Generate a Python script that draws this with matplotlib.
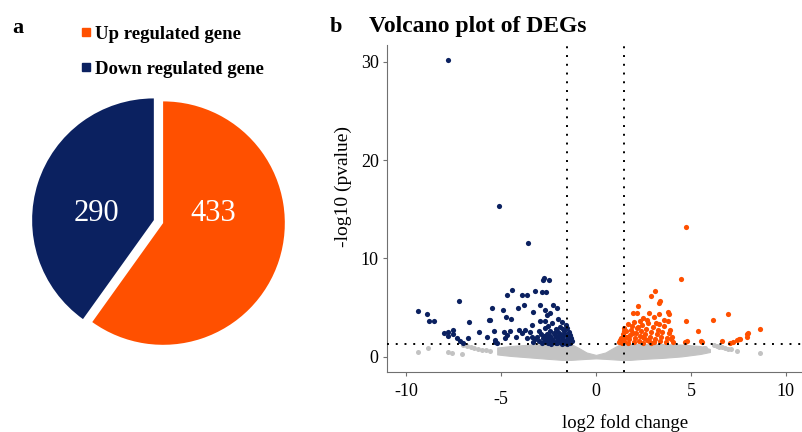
import numpy as np
import matplotlib
matplotlib.use("Agg")
import matplotlib.pyplot as plt
import matplotlib.transforms as mtrans
from matplotlib.lines import Line2D

plt.rcParams['font.family'] = ['Liberation Serif', 'DejaVu Serif']

# ---- data ----
pie_labels = ["Up regulated gene", "Down regulated gene"]
pie_counts = [433, 290]
col_up = "#FF5000"
col_down = "#0B2160"
col_grey = "#C3C3C3"

# non significant genes: envelope of the dense grey band
band_x = [-5.2, -4.5, -3.5, -2.5, -1.8, -1.3, -0.9, -0.5, 0.0, 0.5, 0.9, 1.3, 1.8, 2.5, 3.5, 4.5, 5.5, 6.0]
band_lo = [0.25, 0.1, -0.05, -0.2, -0.3, -0.3, -0.25, -0.2, -0.15, -0.2, -0.25, -0.3, -0.3, -0.2, -0.1, 0.05, 0.3, 0.5]
band_hi = [0.95, 1.1, 1.25, 1.3, 1.3, 1.3, 0.9, 0.45, 0.2, 0.45, 0.9, 1.3, 1.3, 1.3, 1.3, 1.25, 1.1, 0.8]

grey_x = [-9.35, -8.86, -7.77, -7.6, -7.07, -7.0, -6.8, -6.6, -6.4, -6.2, -6.0, -5.8, -5.6,
          5.68, 5.74, 6.2, 6.35, 6.5, 6.65, 6.8, 6.95, 7.1, 7.44, 8.63]
grey_y = [0.54, 0.88, 0.54, 0.37, 0.3, 1.2, 1.1, 1.0, 0.95, 0.85, 0.75, 0.65, 0.55,
          0.88, 0.9, 1.2, 1.1, 1.05, 0.98, 0.92, 0.85, 0.8, 0.64, 0.44]

down_x = [-7.77, -5.09, -3.56, -2.74, -2.77, -2.46, -4.4, -4.7, -3.88, -3.65, -3.21, -2.86, -2.63,
          -5.46, -4.91, -4.09, -3.79, -3.3, -2.95, -2.67, -2.42, -2.28, -2.03, -4.75, -4.49, -5.56,
          -3.39, -2.95, -2.68, -2.6, -5.37, -5.75, -5.32, -4.84, -4.53, -4.79, -4.7, -4.21, -4.04,
          -3.91, -3.74, -3.47, -3.39, -3.65, -9.35, -8.9, -8.79, -8.51, -7.23, -6.67, -7.98, -7.81,
          -7.54, -7.77, -7.51, -7.33, -7.16, -6.98, -6.72, -6.14, -5.61, -5.32, -5.23,
          -2.0, -1.8, -2.3, -1.6, -2.5, -1.9, -2.1, -1.5, -2.7, -3.0, -2.4, -1.7, -2.2, -1.4,
          -2.9, -2.6, -1.9, -1.6, -2.4, -2.1, -1.8, -1.45, -3.1, -2.8, -2.6, -2.3, -2.0, -1.7,
          -1.4, -3.0, -2.7, -2.45, -2.2, -1.95, -1.6, -1.35, -2.85, -3.3, -2.55, -2.1, -1.8,
          -1.5, -2.35, -1.25, -1.3, -2.75, -3.2, -1.55, -2.0, -1.75,
          -1.65, -1.85, -2.05, -2.25, -1.45, -1.35, -1.95, -2.15, -2.5, -1.7]
down_y = [30.2, 15.36, 11.56, 8.0, 7.83, 7.83, 6.8, 6.24, 6.24, 6.24, 6.65, 6.57, 6.57,
          4.95, 4.78, 4.95, 5.29, 4.61, 5.29, 4.78, 4.51, 5.29, 4.95, 4.03, 3.82, 3.76,
          3.26, 3.6, 3.6, 4.27, 2.68, 2.07, 1.73, 2.58, 2.68, 1.9, 2.24, 2.07, 2.75,
          2.4, 2.75, 2.58, 2.07, 1.9, 4.68, 4.34, 3.6, 3.6, 5.63, 3.5, 2.47, 2.58,
          2.75, 2.14, 2.3, 1.96, 1.63, 1.46, 1.96, 2.58, 3.76, 1.56, 1.39,
          3.8, 3.5, 3.4, 3.2, 3.1, 3.0, 2.8, 2.9, 2.9, 2.6, 2.6, 2.6, 2.4, 2.5,
          2.3, 2.3, 2.3, 2.2, 2.1, 2.0, 2.0, 2.0, 2.0, 1.9, 1.85, 1.8, 1.75, 1.75,
          1.7, 1.6, 1.6, 1.55, 1.55, 1.5, 1.5, 1.45, 1.45, 1.5, 1.4, 1.38, 1.35,
          1.35, 1.35, 1.6, 1.9, 2.15, 1.8, 1.75, 2.5, 2.8,
          1.4, 1.6, 1.45, 1.65, 1.85, 2.2, 2.15, 2.25, 1.95, 2.35]

up_x = [4.72, 4.46, 3.11, 2.89, 3.37, 3.33, 2.23, 1.93, 2.14, 2.81, 3.05, 3.3, 3.77, 3.86,
        2.49, 2.67, 2.32, 3.58, 3.8, 4.75, 5.35, 3.89, 3.98, 4.07, 4.68, 4.8, 5.53, 6.14,
        6.96, 6.61, 7.23, 7.4, 7.54, 7.93, 8.02, 7.96, 8.63, 7.58, 7.05, 5.56,
        1.2, 1.3, 1.4, 1.35, 1.5, 1.55, 1.6, 1.5, 1.7, 1.75, 1.8, 1.85, 1.9, 1.7, 2.0, 2.05,
        2.1, 2.15, 2.0, 2.25, 2.3, 2.35, 2.4, 2.5, 2.55, 2.6, 2.65, 2.75, 2.8, 2.85, 2.9,
        3.0, 3.05, 3.1, 3.2, 3.25, 3.35, 3.45, 3.5, 3.6, 3.7, 3.75, 3.85, 1.25, 1.45, 1.95,
        2.2, 2.45, 2.7, 3.3, 1.65, 2.9, 3.15, 3.95]
up_y = [13.15, 7.9, 6.68, 6.17, 5.63, 5.45, 5.22, 4.51, 4.51, 4.51, 4.1, 4.34, 4.61, 4.37,
        4.0, 3.76, 3.6, 3.76, 3.66, 3.62, 2.64, 2.75, 2.07, 1.56, 1.56, 1.63, 1.63, 3.76,
        4.34, 1.63, 1.56, 1.73, 1.8, 2.07, 2.47, 2.3, 2.85, 1.8, 1.46, 1.56,
        1.5, 1.9, 2.3, 1.4, 1.6, 2.0, 2.6, 2.9, 1.45, 1.8, 2.2, 2.7, 3.1, 3.3, 1.5, 1.9,
        2.4, 2.9, 3.5, 1.6, 2.1, 2.6, 3.2, 1.45, 1.9, 2.3, 2.8, 3.4, 1.6, 2.0, 2.5,
        3.0, 1.5, 1.85, 2.3, 2.7, 1.6, 2.0, 2.5, 3.1, 1.5, 1.9, 2.4, 1.7, 2.65, 2.45,
        3.0, 2.0, 1.75, 3.3, 2.05, 1.4, 3.4, 1.8]

xticks = [-10, -5, 0, 5, 10]
yticks = [0, 10, 20, 30]
fc_cut = 1.5
p_cut = 1.3

fig = plt.figure(figsize=(8.03, 4.32), dpi=100)

# ---- panel a : pie ----
ax1 = fig.add_axes([0.023, 0.163, 0.3487, 0.648])
ax1.pie(pie_counts, colors=[col_up, col_down], startangle=90, counterclock=False,
        explode=[0.04, 0.04], radius=1)
ax1.set_xlim(-1.15, 1.15)
ax1.set_ylim(-1.15, 1.15)
ax1.text(0.45, 0.07, str(pie_counts[0]), color="white", fontsize=22, ha="center", va="center")
ax1.text(-0.51, 0.07, str(pie_counts[1]), color="white", fontsize=22, ha="center", va="center")

handles = [Line2D([], [], marker="s", ls="", color=c, markersize=6) for c in (col_up, col_down)]
fig.legend(handles, pie_labels, loc="upper left", bbox_to_anchor=(0.075, 0.98),
           frameon=False, handletextpad=0.05, labelspacing=0.95, handlelength=0.9,
           prop={"weight": "bold", "size": 13.5})
fig.text(0.022, 0.935, "a", fontsize=16, fontweight="bold", ha="center", va="center")

# ---- panel b : volcano ----
ax2 = fig.add_axes([0.482, 0.139, 0.518, 0.757])
ax2.fill_between(band_x, band_lo, band_hi, color=col_grey, lw=0.8, edgecolor=col_grey, zorder=1)
ax2.scatter(grey_x, grey_y, s=13, color=col_grey, lw=0, zorder=1)
ax2.scatter(down_x, down_y, s=14, color=col_down, lw=0, zorder=2)
ax2.scatter(up_x, up_y, s=14, color=col_up, lw=0, zorder=2)
for xv in (-fc_cut, fc_cut):
    ax2.axvline(xv, color="black", ls=(0, (1, 3.5)), lw=1.4, zorder=3)
ax2.axhline(p_cut, color="black", ls=(0, (1, 3.5)), lw=1.4, zorder=3)

ax2.set_xlim(-11, 10.9)
ax2.set_ylim(-1.53, 31.7)
ax2.set_xticks(xticks)
# the -5 label sits a little lower than the others in the original
ax2.set_xticklabels(["" if t == -5 else str(t) for t in xticks])
ax2.set_yticks(yticks)
ax2.tick_params(labelsize=13, length=3, color="#707070")
ax2.tick_params(axis="x", pad=5)
ax2.tick_params(axis="y", pad=3)
tr = mtrans.blended_transform_factory(ax2.transData, ax2.transAxes)
ax2.text(-5, -0.058, "-5", transform=tr, fontsize=13, ha="center", va="top")
for s in ("top", "right"):
    ax2.spines[s].set_visible(False)
for s in ("left", "bottom"):
    ax2.spines[s].set_color("#707070")
ax2.set_xlabel("log2 fold change", fontsize=13.5)
ax2.xaxis.set_label_coords(0.572, -0.128)
ax2.set_ylabel("-log10 (pvalue)", fontsize=14)
ax2.yaxis.set_label_coords(-0.085, 0.566)

fig.text(0.411, 0.938, "b", fontsize=16, fontweight="bold", ha="left", va="center")
fig.text(0.459, 0.938, "Volcano plot of DEGs", fontsize=17, fontweight="bold", ha="left", va="center")

fig.savefig("out.png", dpi=100)
